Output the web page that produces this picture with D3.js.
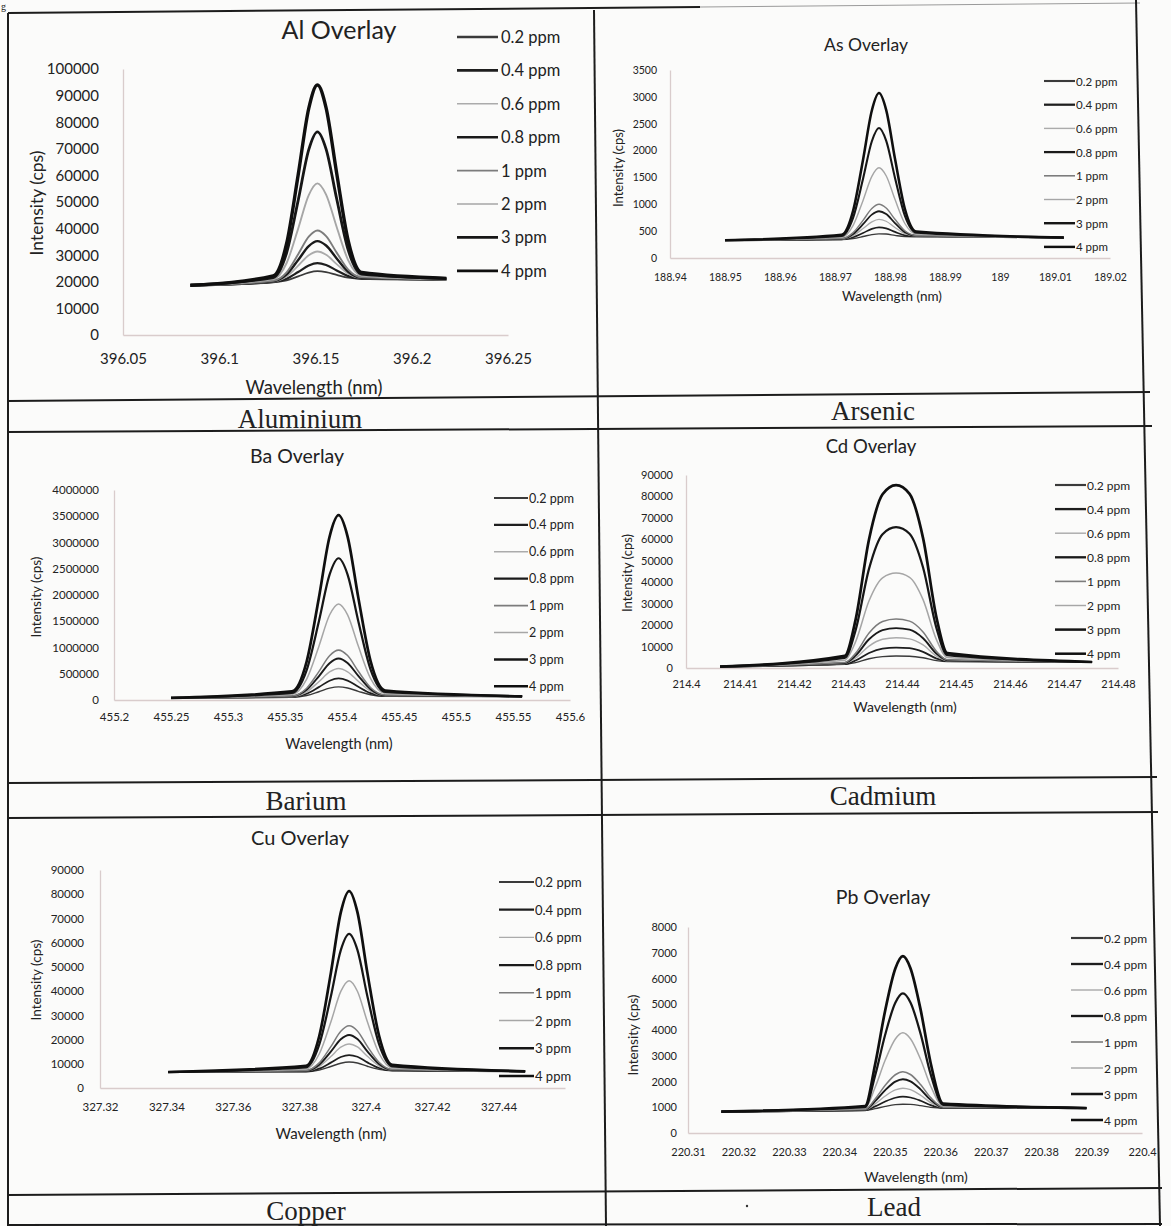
<!DOCTYPE html>
<html>
<head>
<meta charset="utf-8">
<script src="https://cdn.jsdelivr.net/npm/d3@7"></script>
<style>
  html, body { margin: 0; padding: 0; background: #fbfbfa; }
  svg { display: block; }
  text { fill: #222; }
</style>
</head>
<body>
<svg id="fig" width="1171" height="1226"></svg>
<script>
// ---- Data: emission spectra overlays (intensity in cps vs wavelength in nm) ----
const concentrations = ["0.2 ppm", "0.4 ppm", "0.6 ppm", "0.8 ppm", "1 ppm", "2 ppm", "3 ppm", "4 ppm"];
const elementNames = ["Aluminium", "Arsenic", "Barium", "Cadmium", "Copper", "Lead"];
const chartTitles = ["Al Overlay", "As Overlay", "Ba Overlay", "Cd Overlay", "Cu Overlay", "Pb Overlay"];

// Aluminium 396.15 nm
const alWavelength = [396.085, 396.128, 396.135, 396.141, 396.1465, 396.151, 396.1555, 396.161, 396.167, 396.174, 396.218];
const alIntensity = [
  [18600, 19830, 20530, 22020, 23460, 24000, 23660, 22620, 21530, 21130, 20900],
  [18600, 19930, 21130, 23660, 26110, 27000, 26310, 24260, 22130, 21230, 20900],
  [18600, 20080, 22000, 26060, 29990, 31400, 30190, 26660, 23000, 21380, 20900],
  [18600, 20210, 22770, 28190, 33430, 35300, 33630, 28790, 23770, 21510, 20900],
  [18600, 20350, 23560, 30370, 36960, 39300, 37160, 30970, 24560, 21650, 20900],
  [18600, 20950, 27070, 40000, 52600, 57000, 52800, 40600, 28070, 22250, 20900],
  [18700, 21600, 30900, 50600, 69700, 76400, 69900, 51200, 31900, 22900, 21300],
  [18700, 22200, 34400, 60200, 85200, 94000, 85400, 60800, 35400, 23500, 21300]
];
const alXTicks = ["396.05", "396.1", "396.15", "396.2", "396.25"];
const alYTicks = [0, 10000, 20000, 30000, 40000, 50000, 60000, 70000, 80000, 90000, 100000];

// Arsenic 188.98 nm
const asWavelength = [188.950, 188.9712, 188.9733, 188.9751, 188.9767, 188.978, 188.9793, 188.9809, 188.9827, 188.9848, 189.0116];
const asIntensity = [
  [330, 343, 363, 400, 436, 450, 446, 420, 398, 395, 380],
  [330, 347, 387, 466, 542, 570, 552, 486, 422, 405, 380],
  [330, 352, 417, 548, 674, 720, 684, 568, 452, 410, 380],
  [330, 357, 446, 630, 807, 870, 817, 650, 481, 415, 380],
  [330, 362, 472, 701, 921, 1000, 931, 721, 507, 420, 380],
  [330, 385, 607, 1072, 1521, 1680, 1531, 1092, 642, 445, 380],
  [330, 410, 753, 1476, 2174, 2420, 2184, 1496, 788, 470, 380],
  [330, 432, 882, 1831, 2747, 3070, 2757, 1851, 917, 492, 380]
];
const asXTicks = ["188.94", "188.95", "188.96", "188.97", "188.98", "188.99", "189", "189.01", "189.02"];
const asYTicks = [0, 500, 1000, 1500, 2000, 2500, 3000, 3500];

// Barium 455.40 nm
const baWavelength = [455.25, 455.356, 455.369, 455.3797, 455.3891, 455.397, 455.4049, 455.4143, 455.425, 455.438, 455.558];
const baIntensity = [
  [40000, 51700, 86000, 158000, 226000, 250000, 229000, 165000, 99000, 69700, 70000],
  [40000, 57000, 118000, 245000, 367000, 410000, 370000, 252000, 131000, 75000, 70000],
  [40000, 63600, 155000, 349000, 534000, 600000, 537000, 356000, 168000, 81600, 70000],
  [40000, 70000, 193000, 452000, 702000, 790000, 705000, 459000, 206000, 88000, 70000],
  [40000, 75500, 225000, 540000, 843000, 950000, 846000, 547000, 238000, 93500, 70000],
  [40000, 105000, 399000, 1020000, 1619000, 1830000, 1622000, 1027000, 412000, 123000, 70000],
  [40000, 135000, 571000, 1495000, 2387000, 2700000, 2390000, 1502000, 584000, 153000, 70000],
  [40000, 163000, 733000, 1943000, 3110000, 3520000, 3113000, 1950000, 746000, 181000, 70000]
];
const baXTicks = ["455.2", "455.25", "455.3", "455.35", "455.4", "455.45", "455.5", "455.55", "455.6"];
const baYTicks = [0, 500000, 1000000, 1500000, 2000000, 2500000, 3000000, 3500000, 4000000];

// Cadmium 214.44 nm
const cdWavelength = [214.4063, 214.4294, 214.4314, 214.4339, 214.4364, 214.4389, 214.4414, 214.4439, 214.4464, 214.4484, 214.4752];
const cdIntensity = [
  [600, 1685, 2525, 4290, 5315, 5600, 5515, 4790, 3425, 2985, 2800],
  [600, 1880, 3500, 7020, 9020, 9500, 9220, 7520, 4400, 3180, 2800],
  [600, 2110, 4650, 10240, 13390, 14100, 13590, 10740, 5550, 3410, 2800],
  [600, 2335, 5775, 13390, 17665, 18600, 17865, 13890, 6675, 3635, 2800],
  [600, 2545, 6825, 16330, 21655, 22800, 21855, 16830, 7725, 3845, 2800],
  [600, 3620, 12200, 31380, 42080, 44300, 42280, 31880, 13100, 4920, 2800],
  [600, 4690, 17550, 46360, 62410, 65700, 62610, 46860, 18450, 5990, 2800],
  [600, 5670, 22450, 60080, 81030, 85300, 81230, 60580, 23350, 6970, 2800]
];
const cdXTicks = ["214.4", "214.41", "214.42", "214.43", "214.44", "214.45", "214.46", "214.47", "214.48"];
const cdYTicks = [0, 10000, 20000, 30000, 40000, 50000, 60000, 70000, 80000, 90000];

// Copper 327.40 nm
const cuWavelength = [327.3405, 327.382, 327.386, 327.3895, 327.3925, 327.395, 327.3975, 327.4005, 327.404, 327.408, 327.448];
const cuIntensity = [
  [6600, 6736, 7390, 8880, 10230, 10700, 10330, 8980, 7690, 7136, 6900],
  [6600, 6835, 7970, 10470, 12790, 13600, 12890, 10570, 8270, 7235, 6900],
  [6600, 6990, 8880, 12980, 16840, 18200, 16940, 13080, 9180, 7390, 6900],
  [6600, 7120, 9610, 15000, 20100, 21900, 20200, 15100, 9910, 7520, 6900],
  [6600, 7250, 10360, 17070, 23460, 25700, 23560, 17170, 10660, 7650, 6900],
  [6600, 7880, 14040, 27230, 39860, 44300, 39960, 27330, 14340, 8280, 6900],
  [6600, 8535, 17870, 37770, 56890, 63600, 56990, 37870, 18170, 8935, 6900],
  [6600, 9140, 21370, 47430, 72500, 81300, 72600, 47530, 21670, 9540, 6900]
];
const cuXTicks = ["327.32", "327.34", "327.36", "327.38", "327.4", "327.42", "327.44"];
const cuYTicks = [0, 10000, 20000, 30000, 40000, 50000, 60000, 70000, 80000, 90000];

// Lead 220.35 nm
const pbWavelength = [220.3166, 220.3451, 220.3471, 220.3491, 220.3511, 220.3526, 220.3541, 220.3561, 220.3581, 220.3606, 220.389];
const pbIntensity = [
  [830, 877, 946, 1033, 1102, 1120, 1112, 1063, 996, 967, 970],
  [830, 885, 1033, 1222, 1369, 1410, 1379, 1252, 1083, 975, 970],
  [830, 895, 1132, 1436, 1673, 1740, 1683, 1466, 1182, 985, 970],
  [830, 906, 1237, 1664, 1995, 2090, 2005, 1694, 1287, 996, 970],
  [830, 914, 1324, 1852, 2262, 2380, 2272, 1882, 1374, 1004, 970],
  [830, 960, 1777, 2834, 3651, 3890, 3661, 2864, 1827, 1050, 970],
  [830, 1006, 2236, 3828, 5058, 5420, 5068, 3858, 2286, 1096, 970],
  [830, 1049, 2671, 4770, 6392, 6870, 6402, 4800, 2721, 1139, 970]
];
const pbXTicks = ["220.31", "220.32", "220.33", "220.34", "220.35", "220.36", "220.37", "220.38", "220.39", "220.4"];
const pbYTicks = [0, 1000, 2000, 3000, 4000, 5000, 6000, 7000, 8000];

// ---- Styling per concentration (scanned greyscale of the Excel palette) ----
const seriesColor = ["#3a3a3a", "#1e1e1e", "#ababab", "#1a1a1a", "#7c7c7c", "#a6a6a6", "#161616", "#0f0f0f"];
const seriesWidth = [1.8, 2.2, 1.8, 2.4, 1.9, 1.9, 2.8, 3.4];
const legendWidth = [2.4, 2.6, 1.6, 2.6, 1.8, 1.6, 2.8, 2.8];

// ---- Layout of each table cell's chart ----
const layouts = [
  { plot: { left: 123, right: 508, bottom: 335, top: 69 }, xDomain: [396.05, 396.25], yDomain: [0, 100000],
    title: { x: 339, y: 29, size: 25 }, tick: 15, yPad: 24, xPad: 18,
    xTitle: { x: 314, y: 387, size: 18.5 }, yTitle: { x: 36, y: 203, size: 17.5 },
    legend: { x0: 457, x1: 498, tx: 501, y0: 37, dy: 33.4, size: 16.5 }, lw: 1.0,
    label: { x: 300, y: 419 } },
  { plot: { left: 670, right: 1110, bottom: 258, top: 70 }, xDomain: [188.94, 189.02], yDomain: [0, 3500],
    title: { x: 866, y: 44, size: 17.5 }, tick: 10.5, yPad: 13, xPad: 16,
    xTitle: { x: 892, y: 296, size: 13.5 }, yTitle: { x: 618, y: 168, size: 13 },
    legend: { x0: 1044, x1: 1075, tx: 1076, y0: 81, dy: 23.7, size: 11.5 }, lw: 0.75,
    label: { x: 873, y: 411 } },
  { plot: { left: 114, right: 570, bottom: 700, top: 490 }, xDomain: [455.2, 455.6], yDomain: [0, 4000000],
    title: { x: 297, y: 455, size: 19.5 }, tick: 11.5, yPad: 15, xPad: 13,
    xTitle: { x: 339, y: 743, size: 14.5 }, yTitle: { x: 36, y: 597, size: 13.5 },
    legend: { x0: 494, x1: 528, tx: 529, y0: 498, dy: 26.9, size: 12.5 }, lw: 0.8,
    label: { x: 306, y: 801 } },
  { plot: { left: 686, right: 1118, bottom: 668, top: 475 }, xDomain: [214.40, 214.48], yDomain: [0, 90000],
    title: { x: 871, y: 446, size: 18.5 }, tick: 11, yPad: 13, xPad: 12,
    xTitle: { x: 905, y: 706, size: 14 }, yTitle: { x: 627, y: 573, size: 13 },
    legend: { x0: 1055, x1: 1086, tx: 1087, y0: 485, dy: 24.1, size: 12 }, lw: 0.8,
    label: { x: 883, y: 796 } },
  { plot: { left: 100, right: 565, bottom: 1088, top: 870 }, xDomain: [327.32, 327.46], yDomain: [0, 90000],
    title: { x: 300, y: 837, size: 20 }, tick: 11.5, yPad: 16, xPad: 15,
    xTitle: { x: 331, y: 1133, size: 15 }, yTitle: { x: 36, y: 980, size: 13.5 },
    legend: { x0: 499, x1: 534, tx: 535, y0: 882, dy: 27.7, size: 13 }, lw: 0.8,
    label: { x: 306, y: 1211 } },
  { plot: { left: 688, right: 1142, bottom: 1133, top: 927 }, xDomain: [220.31, 220.40], yDomain: [0, 8000],
    title: { x: 883, y: 896, size: 19.5 }, tick: 11, yPad: 11, xPad: 15,
    xTitle: { x: 916, y: 1176, size: 14 }, yTitle: { x: 633, y: 1035, size: 13.5 },
    legend: { x0: 1071, x1: 1103, tx: 1104, y0: 938, dy: 26, size: 12 }, lw: 0.8,
    label: { x: 894, y: 1207 } }
];

const spectra = [
  { wl: alWavelength, data: alIntensity, xTicks: alXTicks, yTicks: alYTicks },
  { wl: asWavelength, data: asIntensity, xTicks: asXTicks, yTicks: asYTicks },
  { wl: baWavelength, data: baIntensity, xTicks: baXTicks, yTicks: baYTicks },
  { wl: cdWavelength, data: cdIntensity, xTicks: cdXTicks, yTicks: cdYTicks },
  { wl: cuWavelength, data: cuIntensity, xTicks: cuXTicks, yTicks: cuYTicks },
  { wl: pbWavelength, data: pbIntensity, xTicks: pbXTicks, yTicks: pbYTicks }
];

const svg = d3.select("#fig");
const sans = "Lato, 'Open Sans', sans-serif";
const serif = "'Liberation Serif', 'DejaVu Serif', serif";

// ---- Table rules (page is slightly skewed on the scanner) ----
const rules = [
  [8, 13, 700, 7], [700, 7, 1140, 3],
  [8, 13, 8, 1226],
  [594, 10, 606, 1226],
  [1136, 0, 1160, 1226],
  [8, 401, 1150, 392], [8, 432, 1152, 426],
  [8, 783, 1157, 777], [8, 818, 1158, 812],
  [8, 1195, 1162, 1188], [8, 1225, 1162, 1224]
];
svg.append("g").selectAll("line").data(rules).join("line")
  .attr("x1", d => d[0]).attr("y1", d => d[1]).attr("x2", d => d[2]).attr("y2", d => d[3])
  .attr("stroke", (d, i) => i === 1 ? "#9a9a9a" : "#1c1c1c")
  .attr("stroke-width", (d, i) => i === 1 ? 1 : 2);

// fragment of the figure caption above the table
svg.append("text").attr("x", 1).attr("y", 10).attr("font-family", serif).attr("font-size", 10).text("g");

spectra.forEach((s, p) => {
  const L = layouts[p];
  const g = svg.append("g");
  const x = d3.scaleLinear().domain(L.xDomain).range([L.plot.left, L.plot.right]);
  const y = d3.scaleLinear().domain(L.yDomain).range([L.plot.bottom, L.plot.top]);

  // axes
  const xAxis = d3.axisBottom(x).tickValues(s.xTicks.map(Number)).tickSize(0).tickSizeOuter(0)
    .tickPadding(L.xPad).tickFormat((d, i) => s.xTicks[i]);
  const yAxis = d3.axisLeft(y).tickValues(s.yTicks).tickSize(0).tickSizeOuter(0)
    .tickPadding(L.yPad).tickFormat(d3.format("d"));
  const gx = g.append("g").attr("transform", `translate(0,${L.plot.bottom})`).call(xAxis);
  const gy = g.append("g").attr("transform", `translate(${L.plot.left},0)`).call(yAxis);
  [gx, gy].forEach(a => {
    a.select(".domain").attr("stroke", "#d9cccc").attr("stroke-width", 1.3);
    a.selectAll("text").attr("font-family", sans).attr("font-size", L.tick).attr("fill", "#2a2a2a");
  });

  // spectra lines
  const line = d3.line().x(d => x(d[0])).y(d => y(d[1])).curve(d3.curveMonotoneX);
  g.append("g").selectAll("path").data(s.data).join("path")
    .attr("d", vals => line(vals.map((v, i) => [s.wl[i], v])))
    .attr("fill", "none")
    .attr("stroke", (d, i) => seriesColor[i])
    .attr("stroke-width", (d, i) => seriesWidth[i] * L.lw)
    .attr("stroke-linejoin", "round");

  // titles
  g.append("text").attr("x", L.title.x).attr("y", L.title.y).attr("text-anchor", "middle")
    .attr("dominant-baseline", "central").attr("font-family", sans).attr("font-size", L.title.size)
    .text(chartTitles[p]);
  g.append("text").attr("x", L.xTitle.x).attr("y", L.xTitle.y).attr("text-anchor", "middle")
    .attr("dominant-baseline", "central").attr("font-family", sans).attr("font-size", L.xTitle.size)
    .text("Wavelength (nm)");
  g.append("text").attr("transform", `translate(${L.yTitle.x},${L.yTitle.y}) rotate(-90)`)
    .attr("text-anchor", "middle").attr("dominant-baseline", "central")
    .attr("font-family", sans).attr("font-size", L.yTitle.size).text("Intensity (cps)");

  // legend
  const lg = g.append("g").selectAll("g").data(concentrations).join("g")
    .attr("transform", (d, i) => `translate(0,${L.legend.y0 + i * L.legend.dy})`);
  lg.append("line").attr("x1", L.legend.x0).attr("x2", L.legend.x1)
    .attr("stroke", (d, i) => seriesColor[i]).attr("stroke-width", (d, i) => legendWidth[i] * (0.5 + L.lw / 2));
  lg.append("text").attr("x", L.legend.tx).attr("dominant-baseline", "central")
    .attr("font-family", sans).attr("font-size", L.legend.size).text(d => d);

  // element name row
  svg.append("text").attr("x", L.label.x).attr("y", L.label.y).attr("text-anchor", "middle")
    .attr("dominant-baseline", "central").attr("font-family", serif).attr("font-size", 27)
    .attr("fill", "#111").text(elementNames[p]);
});

// stray mark in the last row
svg.append("circle").attr("cx", 747).attr("cy", 1206).attr("r", 1.2).attr("fill", "#333");
</script>
</body>
</html>
